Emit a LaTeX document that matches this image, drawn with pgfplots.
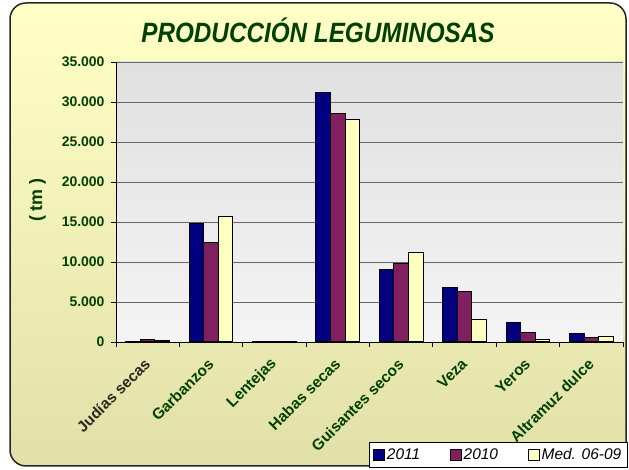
\documentclass[border=0pt]{standalone}
\usepackage{fontspec}
\setmainfont{Liberation Sans}
\usepackage{graphicx}
\usepackage{pgfplots}
\pgfplotsset{compat=1.18}
\definecolor{dgreen}{RGB}{0,64,0}
\definecolor{dgray}{RGB}{40,40,30}
\definecolor{c2011}{RGB}{0,0,128}
\definecolor{c2010}{RGB}{128,32,96}
\definecolor{cmed}{RGB}{255,255,192}
\definecolor{bgtop}{RGB}{255,255,198}
\definecolor{bgbot}{RGB}{224,224,168}
\definecolor{patop}{RGB}{224,224,224}
\definecolor{pabot}{RGB}{244,244,244}
\begin{document}
\begin{tikzpicture}[x=1bp,y=1bp]
\useasboundingbox (0,0) rectangle (629,470);
\fill[white] (0,0) rectangle (629,470);
\shade[top color=bgtop, bottom color=bgbot, rounded corners=16bp] (10,4) rectangle (626,467);
\draw[line width=1.5bp, draw=black!85, rounded corners=16bp] (10,4) rectangle (626,467);
\fill[top color=patop, bottom color=pabot] (116,128) rectangle (623,408);
\node[anchor=base, font=\fontsize{28}{30}\selectfont\bfseries\itshape, text=dgreen] at (318,427) {\scalebox{0.87}[1]{PRODUCCIÓN LEGUMINOSAS}};
\begin{axis}[
 at={(116bp,128bp)}, anchor=south west, scale only axis,
 width=507bp, height=280bp,
 ymin=0, ymax=35000, xmin=-0.5, xmax=7.5,
 ybar=0pt, bar width=0.23,
 ytick={0,5000,...,35000},
 scaled y ticks=false,
 yticklabel style={xshift=-3bp, /pgf/number format/.cd, fixed, 1000 sep={.}},
 /pgf/number format/assume math mode=true,
 xtick={-0.5,0.5,...,7.5},
 x tick label as interval,
 xticklabels={\textcolor{dgray}{Judías secas},Garbanzos,Lentejas,Habas secas,Guisantes secos,Veza,Yeros,Altramuz dulce},
 ymajorgrids, grid style={draw=black!60, line width=0.8bp},
 axis x line*=bottom, axis y line*=left,
 axis line style={black, line width=0.8bp},
 tick align=outside, major tick length=5bp,
 tick style={black, line width=0.8bp},
 tick label style={font=\fontsize{14}{16}\selectfont\bfseries, text=dgreen},
 xticklabel style={rotate=45, anchor=east, yshift=-10bp, xshift=-7bp, font=\fontsize{15.5}{17}\selectfont\bfseries},
 ylabel={( tm )},
 ylabel style={font=\fontsize{18}{20}\selectfont\bfseries, text=dgreen, at={(axis description cs:-0.155,0.507)}, anchor=center},
 legend columns=3,
 legend style={at={(0.754,-0.403)}, anchor=center, draw=black, line width=0.8bp, fill=white,
   font=\fontsize{15.5}{17}\selectfont\itshape, /tikz/every even column/.append style={column sep=28bp},
   inner xsep=4bp, inner ysep=4bp},
 legend image code/.code={\draw[#1, draw=black, line width=0.6bp] (0bp,-5bp) rectangle (11bp,6bp);},
]
\addplot[fill=c2011, draw=black, line width=1bp] coordinates {(0,80) (1,14750) (2,60) (3,31150) (4,9050) (5,6750) (6,2450) (7,1020)};
\addplot[fill=c2010, draw=black, line width=1bp] coordinates {(0,350) (1,12400) (2,40) (3,28550) (4,9750) (5,6330) (6,1180) (7,600)};
\addplot[fill=cmed, draw=black, line width=1bp] coordinates {(0,220) (1,15650) (2,50) (3,27850) (4,11150) (5,2750) (6,260) (7,720)};
\legend{2011,2010,Med. 06-09}
\end{axis}
\end{tikzpicture}
\end{document}
